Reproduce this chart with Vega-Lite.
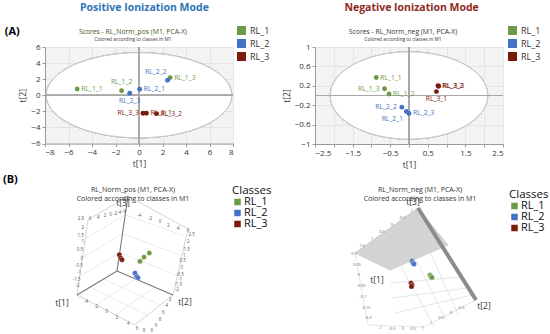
{
  "$schema": "https://vega.github.io/schema/vega-lite/v6.json",
  "background": "white",
  "padding": {"left": 3, "top": 2, "right": 0, "bottom": 0},
  "config": {
    "font": "Open Sans",
    "view": {"stroke": null},
    "axis": {"labelFont": "Open Sans", "titleFont": "Open Sans", "labelFontSize": 8, "titleFontSize": 8.5, "titleFontWeight": "normal", "labelColor": "#333", "titleColor": "#333", "domainColor": "#9a9a9a", "tickColor": "#9a9a9a", "tickSize": 3, "gridColor": "#e0e0e0", "gridWidth": 0.8, "labelPadding": 2, "titlePadding": 3, "format": "~g"},
    "title": {"font": "Open Sans"},
    "legend": {"labelFont": "Open Sans", "titleFont": "Open Sans"}
  },
  "datasets": {
    "pos": [
      {"id": "RL_1_1", "cls": "RL_1", "t1": -5.26, "t2": 0.78},
      {"id": "RL_1_2", "cls": "RL_1", "t1": -1.48, "t2": 0.57},
      {"id": "RL_1_3", "cls": "RL_1", "t1": 2.65, "t2": 2.19},
      {"id": "RL_2_1", "cls": "RL_2", "t1": 0.06, "t2": 0.75},
      {"id": "RL_2_2", "cls": "RL_2", "t1": 2.43, "t2": 1.87},
      {"id": "RL_2_3", "cls": "RL_2", "t1": -0.79, "t2": 0.25},
      {"id": "RL_3_1", "cls": "RL_3", "t1": 0.63, "t2": -2.24},
      {"id": "RL_3_2", "cls": "RL_3", "t1": 1.49, "t2": -2.29},
      {"id": "RL_3_3", "cls": "RL_3", "t1": 0.34, "t2": -2.24}
    ],
    "neg": [
      {"id": "RL_1_1", "cls": "RL_1", "t1": -0.87, "t2": 0.37},
      {"id": "RL_1_2", "cls": "RL_1", "t1": -0.53, "t2": 0.03},
      {"id": "RL_1_3", "cls": "RL_1", "t1": -0.65, "t2": 0.14},
      {"id": "RL_2_1", "cls": "RL_2", "t1": -0.07, "t2": -0.33},
      {"id": "RL_2_2", "cls": "RL_2", "t1": -0.19, "t2": -0.24},
      {"id": "RL_2_3", "cls": "RL_2", "t1": 0.0, "t2": -0.37},
      {"id": "RL_3_1", "cls": "RL_3", "t1": 0.73, "t2": 0.08},
      {"id": "RL_3_2", "cls": "RL_3", "t1": 0.77, "t2": 0.2},
      {"id": "RL_3_3", "cls": "RL_3", "t1": 0.79, "t2": 0.19}
    ],
    "pos3d_pts": [
      {"cls": "RL_1", "px": 140, "py": 258.3},
      {"cls": "RL_1", "px": 144, "py": 254},
      {"cls": "RL_1", "px": 149.3, "py": 250},
      {"cls": "RL_2", "px": 135, "py": 270},
      {"cls": "RL_2", "px": 136.7, "py": 273.3},
      {"cls": "RL_2", "px": 138, "py": 274.7},
      {"cls": "RL_3", "px": 119.3, "py": 251.7},
      {"cls": "RL_3", "px": 120.7, "py": 255},
      {"cls": "RL_3", "px": 122, "py": 256.7}
    ],
    "pos3d_lines": [
      {"seg": "t3", "kind": "axis", "ord": 0, "px": 117, "py": 268},
      {"seg": "t3", "kind": "axis", "ord": 1, "px": 128, "py": 193},
      {"seg": "t1", "kind": "axis", "ord": 0, "px": 117, "py": 268},
      {"seg": "t1", "kind": "axis", "ord": 1, "px": 77, "py": 292},
      {"seg": "t2", "kind": "axis", "ord": 0, "px": 117, "py": 268},
      {"seg": "t2", "kind": "axis", "ord": 1, "px": 173, "py": 292},
      {"seg": "wl", "kind": "wall", "ord": 0, "px": 77, "py": 292},
      {"seg": "wl", "kind": "wall", "ord": 1, "px": 88, "py": 217},
      {"seg": "wl", "kind": "wall", "ord": 2, "px": 128, "py": 193},
      {"seg": "wr", "kind": "wall", "ord": 0, "px": 173, "py": 292},
      {"seg": "wr", "kind": "wall", "ord": 1, "px": 188, "py": 226},
      {"seg": "wr", "kind": "wall", "ord": 2, "px": 128, "py": 193},
      {"seg": "fl", "kind": "wall", "ord": 0, "px": 77, "py": 292},
      {"seg": "fl", "kind": "wall", "ord": 1, "px": 135, "py": 322},
      {"seg": "fl", "kind": "wall", "ord": 2, "px": 173, "py": 292},
      {"seg": "g1", "kind": "grid", "ord": 0, "px": 119.8, "py": 249.3},
      {"seg": "g1", "kind": "grid", "ord": 1, "px": 79.8, "py": 273.3},
      {"seg": "g2", "kind": "grid", "ord": 0, "px": 122.5, "py": 230.5},
      {"seg": "g2", "kind": "grid", "ord": 1, "px": 82.5, "py": 254.5},
      {"seg": "g3", "kind": "grid", "ord": 0, "px": 125.3, "py": 211.8},
      {"seg": "g3", "kind": "grid", "ord": 1, "px": 85.3, "py": 235.8},
      {"seg": "g4", "kind": "grid", "ord": 0, "px": 119.8, "py": 249.3},
      {"seg": "g4", "kind": "grid", "ord": 1, "px": 176.8, "py": 272.3},
      {"seg": "g5", "kind": "grid", "ord": 0, "px": 122.5, "py": 230.5},
      {"seg": "g5", "kind": "grid", "ord": 1, "px": 180.5, "py": 252.5},
      {"seg": "g6", "kind": "grid", "ord": 0, "px": 125.3, "py": 211.8},
      {"seg": "g6", "kind": "grid", "ord": 1, "px": 184.3, "py": 232.8},
      {"seg": "g7", "kind": "grid", "ord": 0, "px": 135.5, "py": 276},
      {"seg": "g7", "kind": "grid", "ord": 1, "px": 96, "py": 302},
      {"seg": "g8", "kind": "grid", "ord": 0, "px": 154.5, "py": 284},
      {"seg": "g8", "kind": "grid", "ord": 1, "px": 115, "py": 312},
      {"seg": "g9", "kind": "grid", "ord": 0, "px": 103.8, "py": 276},
      {"seg": "g9", "kind": "grid", "ord": 1, "px": 160, "py": 302},
      {"seg": "g10", "kind": "grid", "ord": 0, "px": 90.2, "py": 284},
      {"seg": "g10", "kind": "grid", "ord": 1, "px": 147, "py": 312}
    ],
    "pos3d_ticks": [
      {"txt": "2.8", "px": 81, "py": 216}, {"txt": "2", "px": 82.7, "py": 225}, {"txt": "1.5", "px": 80.7, "py": 233.3},
      {"txt": "1", "px": 82.7, "py": 239.3}, {"txt": "0.5", "px": 80, "py": 247.3}, {"txt": "0", "px": 81.7, "py": 255.7},
      {"txt": "-0.5", "px": 79, "py": 263.3}, {"txt": "-1", "px": 79, "py": 270}, {"txt": "-1.5", "px": 76.7, "py": 276.7},
      {"txt": "-2", "px": 77.3, "py": 283.3},
      {"txt": "6", "px": 90, "py": 216}, {"txt": "4", "px": 98.3, "py": 215}, {"txt": "2", "px": 105, "py": 213},
      {"txt": "0", "px": 110.5, "py": 212}, {"txt": "-2", "px": 115, "py": 211}, {"txt": "-4", "px": 119.3, "py": 210},
      {"txt": "-6", "px": 124, "py": 209.3},
      {"txt": "-4", "px": 139.3, "py": 212.7}, {"txt": "-2", "px": 150, "py": 216}, {"txt": "0", "px": 160, "py": 219.3},
      {"txt": "2", "px": 168.3, "py": 222.7}, {"txt": "4", "px": 178.3, "py": 226}, {"txt": "6", "px": 188.3, "py": 228.3},
      {"txt": "2.5", "px": 191.7, "py": 231.7}, {"txt": "2", "px": 188.3, "py": 239.3}, {"txt": "1.5", "px": 186.7, "py": 246.7},
      {"txt": "1", "px": 184.3, "py": 253.3}, {"txt": "0.5", "px": 182.7, "py": 258.3}, {"txt": "0", "px": 181.7, "py": 265},
      {"txt": "-0.5", "px": 180, "py": 271.7}, {"txt": "-1", "px": 180, "py": 276.7}, {"txt": "-1.5", "px": 178.3, "py": 281.7},
      {"txt": "-2", "px": 176.7, "py": 286.7},
      {"txt": "-4", "px": 86, "py": 299.3}, {"txt": "-2", "px": 96, "py": 304}, {"txt": "0", "px": 106.7, "py": 309.3},
      {"txt": "2", "px": 116.7, "py": 315}, {"txt": "4", "px": 128.3, "py": 321}, {"txt": "6", "px": 137, "py": 325.5},
      {"txt": "8", "px": 144, "py": 328},
      {"txt": "2", "px": 170, "py": 296.7}, {"txt": "4", "px": 166.7, "py": 303.3}, {"txt": "6", "px": 163.3, "py": 310},
      {"txt": "8", "px": 160, "py": 316.7}, {"txt": "6", "px": 156, "py": 322.7}, {"txt": "6", "px": 151.7, "py": 328}
    ],
    "pos3d_axes": [
      {"txt": "t[3]", "px": 123, "py": 200},
      {"txt": "t[1]", "px": 62, "py": 300},
      {"txt": "t[2]", "px": 185, "py": 299}
    ],
    "neg3d_pts": [
      {"cls": "RL_1", "px": 430, "py": 272},
      {"cls": "RL_1", "px": 431, "py": 273.5},
      {"cls": "RL_1", "px": 432, "py": 274.5},
      {"cls": "RL_2", "px": 412, "py": 258},
      {"cls": "RL_2", "px": 413, "py": 260},
      {"cls": "RL_2", "px": 414, "py": 261},
      {"cls": "RL_3", "px": 411, "py": 280},
      {"cls": "RL_3", "px": 412, "py": 282},
      {"cls": "RL_3", "px": 411.5, "py": 283.5}
    ],
    "neg3d_wall": [
      {"ord": 0, "px": 355, "py": 250},
      {"ord": 1, "px": 418, "py": 205},
      {"ord": 2, "px": 448, "py": 242},
      {"ord": 3, "px": 390, "py": 267},
      {"ord": 4, "px": 355, "py": 250}
    ],
    "neg3d_bar": [
      {"ord": 0, "px": 418, "py": 205},
      {"ord": 1, "px": 476, "py": 297}
    ],
    "neg3d_lines": [
      {"seg": "e1", "ord": 0, "px": 355, "py": 250}, {"seg": "e1", "ord": 1, "px": 368, "py": 322},
      {"seg": "e2", "ord": 0, "px": 368, "py": 322}, {"seg": "e2", "ord": 1, "px": 424, "py": 324},
      {"seg": "e3", "ord": 0, "px": 424, "py": 324}, {"seg": "e3", "ord": 1, "px": 476, "py": 297},
      {"seg": "e4", "ord": 0, "px": 390, "py": 267}, {"seg": "e4", "ord": 1, "px": 448, "py": 242},
      {"seg": "g1", "ord": 0, "px": 400, "py": 262}, {"seg": "g1", "ord": 1, "px": 434, "py": 323},
      {"seg": "g2", "ord": 0, "px": 415, "py": 255}, {"seg": "g2", "ord": 1, "px": 446, "py": 317},
      {"seg": "g3", "ord": 0, "px": 430, "py": 249}, {"seg": "g3", "ord": 1, "px": 458, "py": 311},
      {"seg": "g4", "ord": 0, "px": 390, "py": 280}, {"seg": "g4", "ord": 1, "px": 462, "py": 274},
      {"seg": "g5", "ord": 0, "px": 392, "py": 295}, {"seg": "g5", "ord": 1, "px": 468, "py": 285},
      {"seg": "g6", "ord": 0, "px": 395, "py": 310}, {"seg": "g6", "ord": 1, "px": 472, "py": 292}
    ],
    "neg3d_ticks": [
      {"txt": "0.1", "px": 354, "py": 251}, {"txt": "0.05", "px": 357, "py": 262}, {"txt": "0", "px": 359, "py": 272},
      {"txt": "-0.05", "px": 361, "py": 283}, {"txt": "-0.1", "px": 363, "py": 294}, {"txt": "-0.15", "px": 366, "py": 305},
      {"txt": "-0.2", "px": 368, "py": 315},
      {"txt": "1.5", "px": 362, "py": 243}, {"txt": "1", "px": 372, "py": 236}, {"txt": "0.5", "px": 382, "py": 229},
      {"txt": "0", "px": 392, "py": 222}, {"txt": "-0.5", "px": 402, "py": 215}, {"txt": "-1", "px": 411, "py": 208},
      {"txt": "-1", "px": 380, "py": 325}, {"txt": "-0.5", "px": 392, "py": 326}, {"txt": "0", "px": 403, "py": 326},
      {"txt": "0.5", "px": 413, "py": 326}, {"txt": "1", "px": 423, "py": 325},
      {"txt": "1", "px": 431, "py": 320}, {"txt": "0.5", "px": 441, "py": 315}, {"txt": "0", "px": 451, "py": 310},
      {"txt": "-0.5", "px": 461, "py": 305}
    ],
    "neg3d_axes": [
      {"txt": "t[3]", "px": 413, "py": 199},
      {"txt": "t[1]", "px": 377, "py": 277},
      {"txt": "t[2]", "px": 484, "py": 303}
    ]
  },
  "spacing": 5,
  "resolve": {"scale": {"color": "independent"}, "legend": {"color": "independent"}},
  "vconcat": [
    {
      "title": {"text": "(A)", "orient": "left", "angle": 0, "anchor": "end", "baseline": "top", "dy": 23, "offset": -16, "fontSize": 11, "fontWeight": "bold", "color": "#000"},
      "spacing": 12,
      "resolve": {"scale": {"color": "independent"}, "legend": {"color": "independent"}},
      "hconcat": [
        {
          "title": {"text": "Positive Ionization Mode", "color": "#2e75b6", "fontSize": 10.5, "fontWeight": "bold", "anchor": "middle", "offset": 13},
          "resolve": {"scale": {"color": "independent"}, "legend": {"color": "independent"}},
          "vconcat": [
            {
              "title": {"text": "Scores - RL_Norm_pos (M1, PCA-X)", "subtitle": "Colored according to classes in M1", "fontSize": 6.8, "subtitleFontSize": 4.8, "fontWeight": "normal", "color": "#3b5a2b", "subtitleColor": "#333", "subtitleFont": "Open Sans", "offset": -16, "subtitlePadding": 1.5, "frame": "group", "anchor": "middle", "dx": -6},
              "width": 188,
              "height": 96.5,
              "view": {"fill": "#f3f3f3", "stroke": null},
              "data": {"name": "pos"},
              "encoding": {
                "x": {"field": "t1", "type": "quantitative", "scale": {"domain": [-8, 8], "nice": false}, "axis": {"title": "t[1]", "values": [-8, -6, -4, -2, 0, 2, 4, 6, 8]}},
                "y": {"field": "t2", "type": "quantitative", "scale": {"domain": [-6, 6], "nice": false}, "axis": {"title": "t[2]", "values": [-6, -4, -2, 0, 2, 4, 6]}}
              },
              "layer": [
                {
                  "mark": {"type": "point", "shape": "M-1,0 C-1,-0.2535 -0.5523,-0.459 0,-0.459 C0.5523,-0.459 1,-0.2535 1,0 C1,0.2535 0.5523,0.459 0,0.459 C-0.5523,0.459 -1,0.2535 -1,0 Z", "size": 34410, "filled": true, "fill": "#ffffff", "fillOpacity": 0.8, "stroke": "#c4c4c4", "strokeWidth": 0.9, "opacity": 1},
                  "encoding": {"x": {"datum": 0, "type": "quantitative"}, "y": {"datum": 0, "type": "quantitative"}}
                },
                {"mark": {"type": "rule", "color": "#a8a8a8", "strokeWidth": 1}, "encoding": {"x": {"datum": 0, "type": "quantitative"}, "y": null}},
                {"mark": {"type": "rule", "color": "#a8a8a8", "strokeWidth": 1}, "encoding": {"y": {"datum": 0, "type": "quantitative"}, "x": null}},
                {
                  "mark": {"type": "circle", "size": 24, "opacity": 1},
                  "encoding": {"color": {"field": "cls", "type": "nominal", "scale": {"domain": ["RL_1", "RL_2", "RL_3"], "range": ["#6d9a48", "#4472c4", "#7a1a0a"]},
                    "legend": {"title": null, "orient": "none", "legendX": 192, "legendY": -21, "symbolType": "square", "symbolSize": 81, "symbolStrokeWidth": 0, "labelFontSize": 9, "labelColor": "#333", "rowPadding": 3, "labelOffset": 4}}}
                },
                {
                  "transform": [{"filter": {"field": "id", "oneOf": ["RL_1_1", "RL_1_3", "RL_2_1", "RL_3_1", "RL_3_2"]}}],
                  "mark": {"type": "text", "align": "left", "baseline": "middle", "dx": 4, "fontSize": 6.8},
                  "encoding": {"text": {"field": "id"}, "color": {"field": "cls", "type": "nominal", "legend": null}}
                },
                {
                  "transform": [{"filter": {"field": "id", "oneOf": ["RL_1_2"]}}],
                  "mark": {"type": "text", "align": "center", "baseline": "middle", "dy": -8.5, "fontSize": 6.8},
                  "encoding": {"text": {"field": "id"}, "color": {"field": "cls", "type": "nominal", "legend": null}}
                },
                {
                  "transform": [{"filter": {"field": "id", "oneOf": ["RL_2_2"]}}],
                  "mark": {"type": "text", "align": "right", "baseline": "middle", "dx": -1, "dy": -8, "fontSize": 6.8},
                  "encoding": {"text": {"field": "id"}, "color": {"field": "cls", "type": "nominal", "legend": null}}
                },
                {
                  "transform": [{"filter": {"field": "id", "oneOf": ["RL_2_3"]}}],
                  "mark": {"type": "text", "align": "center", "baseline": "middle", "dy": 7.5, "fontSize": 6.8},
                  "encoding": {"text": {"field": "id"}, "color": {"field": "cls", "type": "nominal", "legend": null}}
                },
                {
                  "transform": [{"filter": {"field": "id", "oneOf": ["RL_3_3"]}}],
                  "mark": {"type": "text", "align": "right", "baseline": "middle", "dx": -4, "fontSize": 6.8},
                  "encoding": {"text": {"field": "id"}, "color": {"field": "cls", "type": "nominal", "legend": null}}
                }
              ]
            }
          ]
        },
        {
          "title": {"text": "Negative Ionization Mode", "color": "#8e2a1e", "fontSize": 10.5, "fontWeight": "bold", "anchor": "middle", "offset": 13},
          "resolve": {"scale": {"color": "independent"}, "legend": {"color": "independent"}},
          "vconcat": [
            {
              "title": {"text": "Scores - RL_Norm_neg (M1, PCA-X)", "subtitle": "Colored according to classes in M1", "fontSize": 6.8, "subtitleFontSize": 4.8, "fontWeight": "normal", "color": "#333", "subtitleColor": "#333", "subtitleFont": "Open Sans", "offset": -16, "subtitlePadding": 1.5, "frame": "group", "anchor": "middle", "dx": -6},
              "width": 188,
              "height": 97,
              "view": {"fill": "#f3f3f3", "stroke": null},
              "data": {"name": "neg"},
              "encoding": {
                "x": {"field": "t1", "type": "quantitative", "scale": {"domain": [-2.5, 2.5], "nice": false}, "axis": {"title": "t[1]", "values": [-2.5, -2, -1.5, -1, -0.5, 0, 0.5, 1, 1.5, 2, 2.5]}},
                "y": {"field": "t2", "type": "quantitative", "scale": {"domain": [-1, 1], "nice": false}, "axis": {"title": "t[2]", "values": [-1, -0.6, -0.2, 0.2, 0.6, 1]}}
              },
              "layer": [
                {
                  "mark": {"type": "point", "shape": "M-1,0 C-1,-0.306 -0.5523,-0.554 0,-0.554 C0.5523,-0.554 1,-0.306 1,0 C1,0.306 0.5523,0.554 0,0.554 C-0.5523,0.554 -1,0.306 -1,0 Z", "size": 24806, "filled": true, "fill": "#ffffff", "fillOpacity": 0.8, "stroke": "#c4c4c4", "strokeWidth": 0.9, "opacity": 1},
                  "encoding": {"x": {"datum": 0, "type": "quantitative"}, "y": {"datum": 0, "type": "quantitative"}}
                },
                {"mark": {"type": "rule", "color": "#a8a8a8", "strokeWidth": 1}, "encoding": {"x": {"datum": 0, "type": "quantitative"}, "y": null}},
                {"mark": {"type": "rule", "color": "#a8a8a8", "strokeWidth": 1}, "encoding": {"y": {"datum": 0, "type": "quantitative"}, "x": null}},
                {
                  "mark": {"type": "circle", "size": 24, "opacity": 1},
                  "encoding": {"color": {"field": "cls", "type": "nominal", "scale": {"domain": ["RL_1", "RL_2", "RL_3"], "range": ["#6d9a48", "#4472c4", "#7a1a0a"]},
                    "legend": {"title": null, "orient": "none", "legendX": 193, "legendY": -21, "symbolType": "square", "symbolSize": 81, "symbolStrokeWidth": 0, "labelFontSize": 9, "labelColor": "#333", "rowPadding": 3, "labelOffset": 4}}}
                },
                {
                  "transform": [{"filter": {"field": "id", "oneOf": ["RL_1_1", "RL_1_2", "RL_2_3", "RL_3_2", "RL_3_3"]}}],
                  "mark": {"type": "text", "align": "left", "baseline": "middle", "dx": 4, "fontSize": 6.8},
                  "encoding": {"text": {"field": "id"}, "color": {"field": "cls", "type": "nominal", "legend": null}}
                },
                {
                  "transform": [{"filter": {"field": "id", "oneOf": ["RL_1_3", "RL_2_2"]}}],
                  "mark": {"type": "text", "align": "right", "baseline": "middle", "dx": -5, "fontSize": 6.8},
                  "encoding": {"text": {"field": "id"}, "color": {"field": "cls", "type": "nominal", "legend": null}}
                },
                {
                  "transform": [{"filter": {"field": "id", "oneOf": ["RL_2_1"]}}],
                  "mark": {"type": "text", "align": "center", "baseline": "middle", "dx": -14, "dy": 7.5, "fontSize": 6.8},
                  "encoding": {"text": {"field": "id"}, "color": {"field": "cls", "type": "nominal", "legend": null}}
                },
                {
                  "transform": [{"filter": {"field": "id", "oneOf": ["RL_3_1"]}}],
                  "mark": {"type": "text", "align": "center", "baseline": "middle", "dy": 7.5, "fontSize": 6.8},
                  "encoding": {"text": {"field": "id"}, "color": {"field": "cls", "type": "nominal", "legend": null}}
                }
              ]
            }
          ]
        }
      ]
    },
    {
      "title": {"text": "(B)", "anchor": "start", "fontSize": 11, "fontWeight": "bold", "color": "#000", "offset": 0, "dx": -42},
      "spacing": 3,
      "resolve": {"scale": {"color": "independent"}, "legend": {"color": "independent"}},
      "hconcat": [
        {
          "title": {"text": "RL_Norm_pos (M1, PCA-X)", "subtitle": "Colored according to classes in M1", "fontSize": 7, "subtitleFontSize": 7, "fontWeight": "normal", "color": "#333", "subtitleColor": "#333", "subtitleFont": "Open Sans", "offset": -16.5, "subtitlePadding": 2, "frame": "group", "anchor": "middle", "dx": -27},
          "width": 230,
          "height": 138,
          "encoding": {
            "x": {"field": "px", "type": "quantitative", "scale": {"domain": [45, 275], "nice": false}, "axis": null},
            "y": {"field": "py", "type": "quantitative", "scale": {"domain": [199, 337], "nice": false, "reverse": true}, "axis": null}
          },
          "layer": [
            {
              "data": {"name": "pos3d_lines"},
              "transform": [{"filter": "datum.kind == 'grid'"}],
              "mark": {"type": "line", "color": "#e2e2e2", "strokeWidth": 0.7},
              "encoding": {"detail": {"field": "seg"}, "order": {"field": "ord"}}
            },
            {
              "data": {"name": "pos3d_lines"},
              "transform": [{"filter": "datum.kind == 'wall'"}],
              "mark": {"type": "line", "color": "#c8c8c8", "strokeWidth": 0.8},
              "encoding": {"detail": {"field": "seg"}, "order": {"field": "ord"}}
            },
            {
              "data": {"name": "pos3d_lines"},
              "transform": [{"filter": "datum.kind == 'axis'"}],
              "mark": {"type": "line", "color": "#7a7a7a", "strokeWidth": 1.1},
              "encoding": {"detail": {"field": "seg"}, "order": {"field": "ord"}}
            },
            {
              "data": {"name": "pos3d_ticks"},
              "mark": {"type": "text", "fontSize": 4.5, "color": "#555"},
              "encoding": {"text": {"field": "txt"}}
            },
            {
              "data": {"name": "pos3d_axes"},
              "mark": {"type": "text", "fontSize": 8.5, "color": "#333"},
              "encoding": {"text": {"field": "txt"}}
            },
            {
              "data": {"name": "pos3d_pts"},
              "mark": {"type": "circle", "size": 26, "opacity": 1, "stroke": "#ffffff", "strokeWidth": 0.3},
              "encoding": {"color": {"field": "cls", "type": "nominal", "scale": {"domain": ["RL_1", "RL_2", "RL_3"], "range": ["#6d9a48", "#4472c4", "#7a1a0a"]},
                "legend": {"title": "Classes", "titleFontSize": 11.5, "titleFontWeight": "normal", "titleColor": "#111", "titlePadding": 0, "orient": "none", "legendX": 187, "legendY": -17, "symbolType": "square", "symbolSize": 42, "symbolStrokeWidth": 0, "labelFontSize": 11, "labelColor": "#111", "rowPadding": -1.5, "labelOffset": 1}}}
            }
          ]
        },
        {
          "title": {"text": "RL_Norm_neg (M1, PCA-X)", "subtitle": "Colored according to classes in M1", "fontSize": 7, "subtitleFontSize": 7, "fontWeight": "normal", "color": "#333", "subtitleColor": "#333", "subtitleFont": "Open Sans", "offset": -12.5, "subtitlePadding": 2, "frame": "group", "anchor": "middle", "dx": 6},
          "width": 272,
          "height": 138,
          "encoding": {
            "x": {"field": "px", "type": "quantitative", "scale": {"domain": [278, 550], "nice": false}, "axis": null},
            "y": {"field": "py", "type": "quantitative", "scale": {"domain": [199, 337], "nice": false, "reverse": true}, "axis": null}
          },
          "layer": [
            {
              "data": {"name": "neg3d_wall"},
              "mark": {"type": "line", "color": "#bdbdbd", "fill": "#d4d4d4", "strokeWidth": 0.6},
              "encoding": {"order": {"field": "ord"}}
            },
            {
              "data": {"name": "neg3d_lines"},
              "mark": {"type": "line", "color": "#dadada", "strokeWidth": 0.7},
              "encoding": {"detail": {"field": "seg"}, "order": {"field": "ord"}}
            },
            {
              "data": {"name": "neg3d_bar"},
              "mark": {"type": "line", "color": "#8c8c8c", "strokeWidth": 4},
              "encoding": {"order": {"field": "ord"}}
            },
            {
              "data": {"name": "neg3d_ticks"},
              "mark": {"type": "text", "fontSize": 4, "color": "#666"},
              "encoding": {"text": {"field": "txt"}}
            },
            {
              "data": {"name": "neg3d_axes"},
              "mark": {"type": "text", "fontSize": 8.5, "color": "#333"},
              "encoding": {"text": {"field": "txt"}}
            },
            {
              "data": {"name": "neg3d_pts"},
              "mark": {"type": "circle", "size": 26, "opacity": 1, "stroke": "#ffffff", "strokeWidth": 0.3},
              "encoding": {"color": {"field": "cls", "type": "nominal", "scale": {"domain": ["RL_1", "RL_2", "RL_3"], "range": ["#6d9a48", "#4472c4", "#7a1a0a"]},
                "legend": {"title": "Classes", "titleFontSize": 11.5, "titleFontWeight": "normal", "titleColor": "#111", "titlePadding": 0, "orient": "none", "legendX": 231, "legendY": -13, "symbolType": "square", "symbolSize": 42, "symbolStrokeWidth": 0, "labelFontSize": 11, "labelColor": "#111", "rowPadding": -1.5, "labelOffset": 1}}}
            }
          ]
        }
      ]
    }
  ]
}
